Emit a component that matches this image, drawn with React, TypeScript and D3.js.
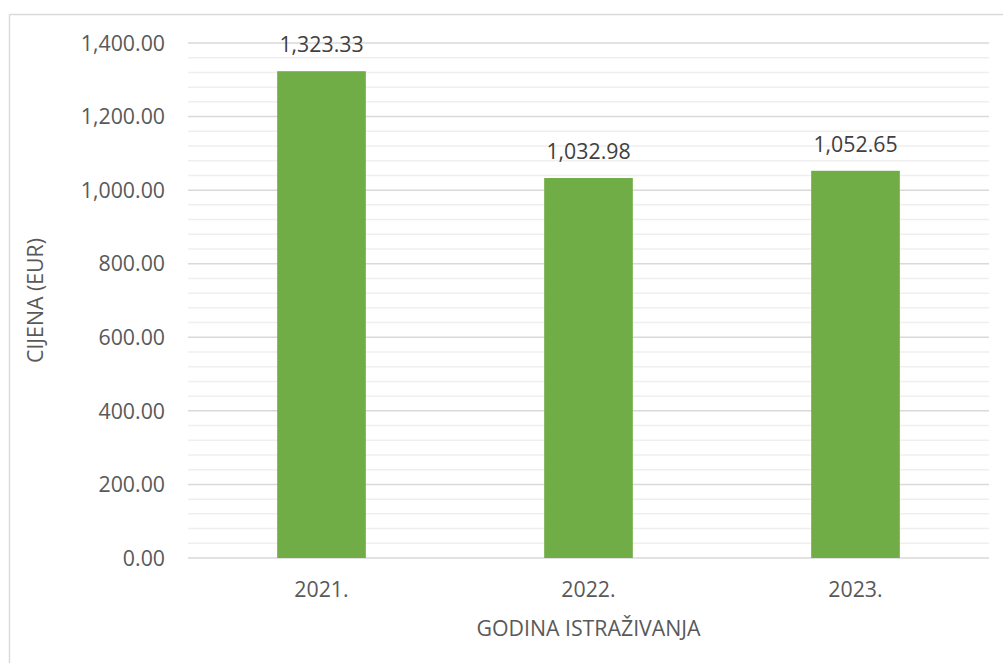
import React from "react";
import * as d3 from "d3";

const categories = ["2021.", "2022.", "2023."];
const values = [1323.33, 1032.98, 1052.65];
const yMajorTicks = [0, 200, 400, 600, 800, 1000, 1200, 1400];
const yTitle = "CIJENA (EUR)";
const xTitle = "GODINA ISTRAŽIVANJA";

const W = 1003;
const H = 663;
const plot = { left: 188, right: 989, top: 43, bottom: 558 };
const FONT = "'Open Sans', sans-serif";
const TEXT = "#595959";
const FS = 21.3;

export default function App() {
  const x = d3
    .scaleBand<string>()
    .domain(categories)
    .range([plot.left, plot.right])
    .paddingInner(0.668)
    .paddingOuter(0.334);
  const y = d3.scaleLinear().domain([0, 1400]).range([plot.bottom, plot.top]);
  const minorTicks = d3.range(0, 1400 + 1, 40).filter((v) => v % 200 !== 0);
  const fmt = d3.format(",.2f");
  const step = (plot.right - plot.left) / categories.length;

  return (
    <svg
      width={W}
      height={H}
      style={{ position: "absolute", left: 0, top: 0, background: "#fff" }}
      fontFamily={FONT}
    >
      <rect x={0} y={0} width={W} height={H} fill="#fff" />
      <line x1={9.5} x2={W} y1={14.5} y2={14.5} stroke="#d9d9d9" strokeWidth={1.4} />
      <line x1={9.5} x2={9.5} y1={14.5} y2={H} stroke="#d9d9d9" strokeWidth={1.4} />
      {minorTicks.map((v) => (
        <line
          key={"m" + v}
          x1={plot.left}
          x2={plot.right}
          y1={y(v)}
          y2={y(v)}
          stroke="#efefef"
          strokeWidth={1.5}
        />
      ))}
      {yMajorTicks.map((v) => (
        <line
          key={"g" + v}
          x1={plot.left}
          x2={plot.right}
          y1={y(v)}
          y2={y(v)}
          stroke="#d9d9d9"
          strokeWidth={1.5}
        />
      ))}
      {yMajorTicks.map((v) => (
        <text
          key={"t" + v}
          x={165}
          y={y(v)}
          dy="0.36em"
          textAnchor="end"
          fontSize={FS}
          fill={TEXT}
        >
          {fmt(v)}
        </text>
      ))}
      {categories.map((c, i) => (
        <g key={c}>
          <rect
            x={x(c)!}
            y={y(values[i])}
            width={x.bandwidth()}
            height={y(0) - y(values[i])}
            fill="#70ad47"
          />
          <text
            x={x(c)! + x.bandwidth() / 2}
            y={y(values[i]) - 19}
            textAnchor="middle"
            fontSize={FS}
            fill="#404040"
          >
            {fmt(values[i])}
          </text>
          <text
            x={plot.left + step * (i + 0.5)}
            y={597}
            textAnchor="middle"
            fontSize={FS}
            fill={TEXT}
          >
            {c}
          </text>
        </g>
      ))}
      <text
        x={(plot.left + plot.right) / 2}
        y={636}
        textAnchor="middle"
        fontSize={FS}
        fill={TEXT}
      >
        {xTitle}
      </text>
      <text
        transform={`translate(43, ${(plot.top + plot.bottom) / 2}) rotate(-90)`}
        textAnchor="middle"
        fontSize={FS}
        fill={TEXT}
      >
        {yTitle}
      </text>
    </svg>
  );
}
